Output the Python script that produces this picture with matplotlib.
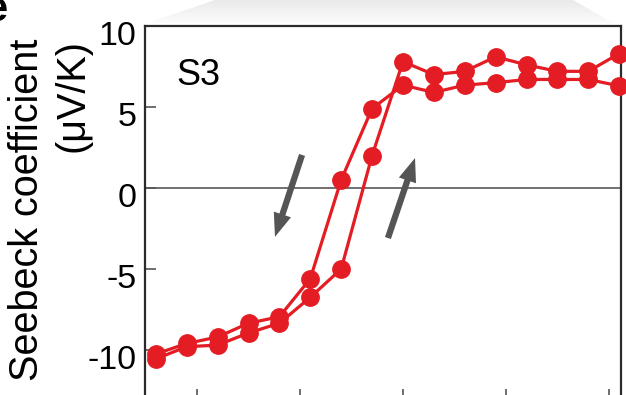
import numpy as np
import matplotlib
matplotlib.use("Agg")
import matplotlib.pyplot as plt
from matplotlib.patches import FancyArrowPatch, Polygon
from matplotlib.transforms import ScaledTranslation

plt.rcParams['font.family'] = ['Liberation Sans', 'DejaVu Sans']
plt.rcParams['axes.unicode_minus'] = False

# ---- data ----
field = [-24, -21, -18, -15, -12, -9, -6, -3, 0, 3, 6, 9, 12, 15, 18, 21]
seebeck_down = [-10.25, -9.6, -9.2, -8.35, -7.95, -5.6, 0.5, 4.9,
                6.35, 5.9, 6.35, 6.5, 6.7, 6.7, 6.7, 6.3]
seebeck_up = [-10.55, -9.8, -9.7, -8.95, -8.35, -6.75, -5.0, 2.0,
              7.8, 7.0, 7.2, 8.1, 7.6, 7.2, 7.2, 8.3]
xticks = [-20, -10, 0, 10, 20]
yticks = [-10, -5, 0, 5, 10]
ytick_labels = ['-10', '-5', '0', '5', '10']
sample_label = 'S3'
ylabel = 'Seebeck coefficient\n(μV/K)'
panel_label = 'e'
# sweep-direction arrows (tail, head) in data coordinates
arrow_down = ((-9.8, 2.04), (-12.43, -3.02))
arrow_up = ((-1.46, -3.09), (1.17, 1.85))

W, H = 626, 395
fig = plt.figure(figsize=(W / 100, H / 100), dpi=100)

# background decorative gradient trapezoid at the top
bg = fig.add_axes([0, 0, 1, 1], zorder=-5)
bg.set_xlim(0, W)
bg.set_ylim(H, 0)
bg.axis('off')
grad = np.linspace(0.915, 0.985, 50).reshape(-1, 1)
im = bg.imshow(grad, extent=[140, 620, 23, 0], cmap='gray', vmin=0, vmax=1,
               aspect='auto', interpolation='bilinear')
poly = Polygon([(148, 23), (215, 0), (573, 0), (613, 23)], closed=True,
               facecolor='none', edgecolor='none', transform=bg.transData)
bg.add_patch(poly)
im.set_clip_path(poly)

# main axes (bottom extends below the figure, as in the cropped reference)
ax = fig.add_axes([145 / W, -5 / H, 476 / W, 374 / H])
ax.set_xlim(-25.05, 21.17)
ax.set_ylim(-13.09, 10)

red = '#E41C23'
ax.axhline(0, color='#707070', lw=1.4, zorder=1)
ax.plot(field, seebeck_down, '-o', color=red, lw=2.3, ms=12.5,
        clip_on=False, zorder=3)
ax.plot(field, seebeck_up, '-o', color=red, lw=2.3, ms=12.5,
        clip_on=False, zorder=3)

for (tail, head) in (arrow_down, arrow_up):
    arr = FancyArrowPatch(tail, head,
                          arrowstyle='simple,head_length=17,head_width=13,tail_width=4.5',
                          mutation_scale=1, shrinkA=0, shrinkB=0,
                          color='#555555', lw=0, zorder=2)
    ax.add_patch(arr)

ax.set_xticks(xticks)
ax.set_xticklabels([])
ax.set_yticks(yticks)
ax.set_yticklabels(ytick_labels)
ax.tick_params(direction='in', length=8, width=1.2, color='#555555',
               labelsize=24.5, pad=6)
ax.tick_params(axis='y', right=False)
for s in ax.spines.values():
    s.set_linewidth(1.6)
    s.set_color('#2a2a2a')

for tick in ax.yaxis.get_major_ticks():
    tick.label1.set_transform(tick.label1.get_transform() +
                              ScaledTranslation(0, -7 / 100, fig.dpi_scale_trans))

ax.text(0.065, 0.842, sample_label, transform=ax.transAxes, fontsize=26,
        va='baseline', ha='left')

fig.text(8 / W, 1 - 39 / H, ylabel, rotation=90, fontsize=28.5,
         multialignment='right', ha='left', va='top', linespacing=1.25)

fig.text(7 / W, 1 - 21 / H, panel_label, fontsize=30, fontweight='bold',
         ha='right', va='baseline')

fig.savefig('out.png', dpi=100)
